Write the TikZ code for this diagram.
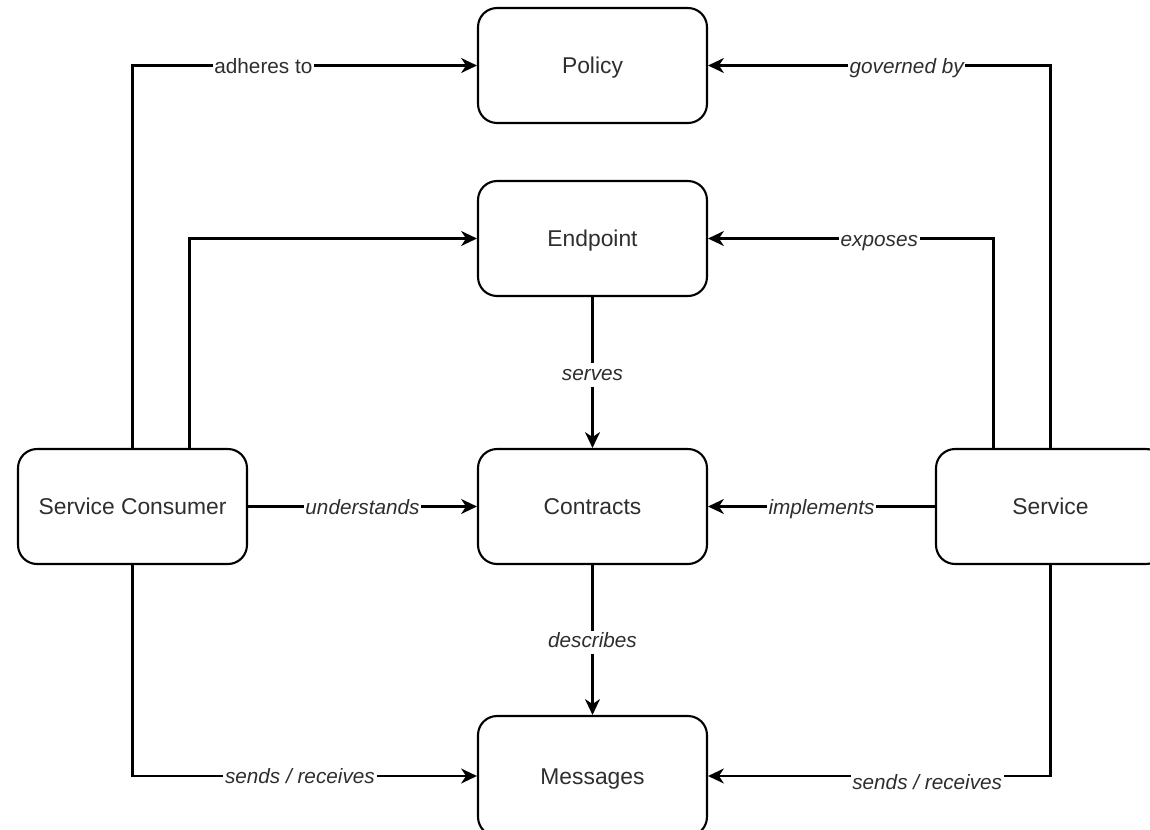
\documentclass[tikz,border=0pt]{standalone}
\usepackage{fontspec}
\setmainfont{Liberation Sans}
\usetikzlibrary{arrows.meta,calc}
\definecolor{txt}{HTML}{2E2E2E}
\begin{document}
\begin{tikzpicture}[x=0.02cm,y=-0.02cm,
  box/.style={draw=black,line width=1.2pt,rounded corners=0.38cm,fill=white,
    minimum width=4.58cm,minimum height=2.3cm,inner sep=0pt,
    text height=9.3pt,text depth=0pt,
    font=\fontsize{13}{15.5}\selectfont,text=txt},
  conn/.style={line width=1.2pt,draw=black,-{Stealth[length=9pt,width=8.5pt,inset=2.8pt]}},
  lbl/.style={fill=white,inner sep=1pt,text height=8.7pt,text depth=2.5pt,yshift=-0.05cm,
    font=\fontsize{11.8}{14}\selectfont\itshape,text=txt},
  plainlbl/.style={lbl,font=\fontsize{11.8}{14}\selectfont}]
\path[use as bounding box,clip] (0,0) rectangle (1150,829);

% boxes
\node[box] (policy)    at (592.5,65.5)  {Policy};
\node[box] (endpoint)  at (592.5,238.5) {Endpoint};
\node[box] (contracts) at (592.5,506.5) {Contracts};
\node[box,minimum height=2.4cm] (messages) at (592.5,776) {Messages};
\node[box] (consumer)  at (132.5,506.5) {Service Consumer};
\node[box] (service)   at (1050.5,506.5) {Service};

% consumer side
\draw[conn] (consumer.north) |- node[plainlbl,pos=0.69] {adheres to} (policy.west);
\draw[conn] ($(consumer.north)+(57,0)$) |- (endpoint.west);
\draw[conn] (consumer.east) -- node[lbl] {understands} (contracts.west);
\draw[conn] (consumer.south) |- node[lbl,pos=0.743] {sends / receives} (messages.west);

% service side
\draw[conn] (service.north) |- node[lbl,pos=0.71] {governed by} (policy.east);
\draw[conn] ($(service.north)+(-57,0)$) |- node[lbl,pos=0.70] {exposes} (endpoint.east);
\draw[conn] (service.west) -- node[lbl] {implements} (contracts.east);
\draw[conn] (service.south) |- node[lbl,pos=0.68,yshift=-0.12cm] {sends / receives} (messages.east);

% central column
\draw[conn] (endpoint.south) -- node[lbl] {serves} (contracts.north);
\draw[conn] (contracts.south) -- node[lbl] {describes} (messages.north);
\end{tikzpicture}
\end{document}
